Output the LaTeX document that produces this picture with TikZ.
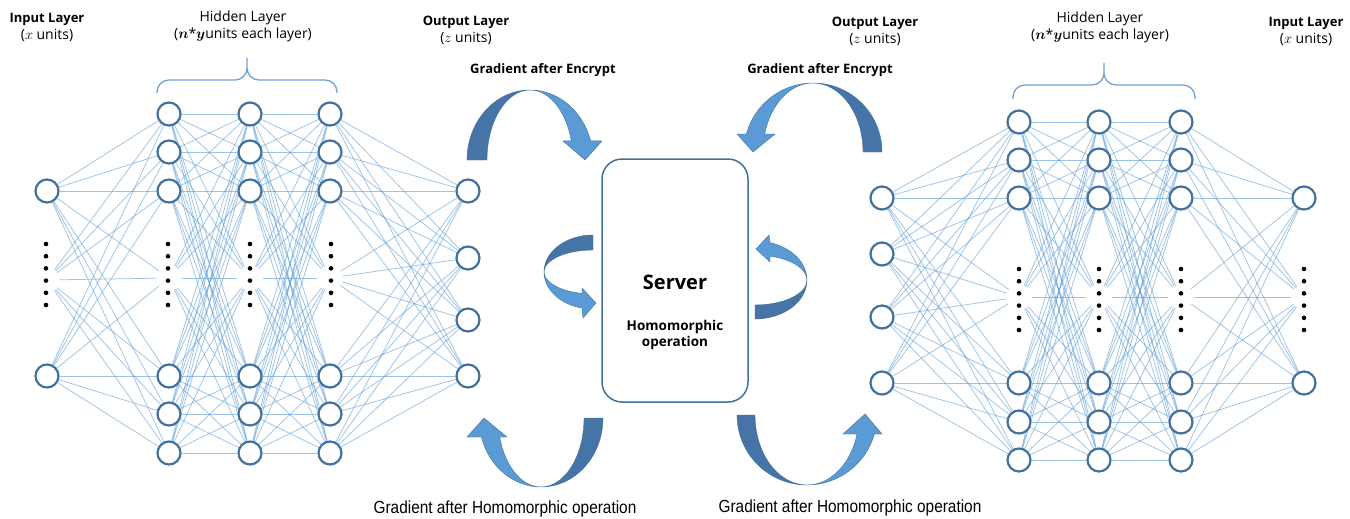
\documentclass[tikz,border=0pt]{standalone}
\usepackage{fontspec}
\setmainfont{Open Sans}
\newfontfamily\narrowfont[FakeStretch=0.88]{Liberation Sans}
\usetikzlibrary{backgrounds}

\definecolor{nodeblue}{HTML}{41719C}
\definecolor{linkblue}{HTML}{5B9BD5}
\definecolor{arrowlight}{HTML}{5B9BD5}
\definecolor{arrowdark}{HTML}{4674A6}
\definecolor{bracecol}{HTML}{6FA3D8}

\tikzset{
  neuron/.style={circle, draw=nodeblue, line width=2.2pt, fill=white, minimum size=23pt, inner sep=0pt},
  ghost/.style={circle, minimum size=25pt, inner sep=0pt},
  link/.style={draw=linkblue, line width=0.75pt, draw opacity=0.6},
  toplabel/.style={align=center, inner sep=0pt, font=\fontsize{14}{17}\selectfont},
  gradlabel/.style={inner sep=0pt, font=\fontsize{13}{15}\selectfont\bfseries},
  homlabel/.style={inner sep=0pt, font=\fontsize{17.5}{19}\selectfont\narrowfont},
  serverbox/.style={draw=nodeblue, line width=1.5pt, rounded corners=20pt, minimum width=146pt, minimum height=243pt},
  brace/.style={draw=bracecol, line width=1.3pt, rounded corners=12pt},
  darkpart/.style={fill=arrowdark, draw=nodeblue, line width=0.4pt},
  lightpart/.style={fill=arrowlight, draw=nodeblue, line width=0.4pt}
}
\newcommand{\layername}[1]{{\fontsize{13}{17}\selectfont\bfseries #1}}

\begin{document}
\begin{tikzpicture}[x=1pt, y=-1pt]
  \useasboundingbox (0,0) rectangle (1350,519);

  % left network
  \foreach \i/\y/\s in {1/191/neuron,2/280/ghost,3/376/neuron}
    \node[\s] (l0-\i) at (47,\y) {};
  \foreach \l/\x in {1/169,2/250,3/330}
    \foreach \i/\y/\s in {1/114/neuron,2/152/neuron,3/191/neuron,4/278/ghost,5/376/neuron,6/414/neuron,7/453/neuron}
      \node[\s] (l\l-\i) at (\x,\y) {};
  \foreach \i/\y in {1/191,2/258,3/320,4/376}
    \node[neuron] (l4-\i) at (468,\y) {};

  % right network
  \foreach \i/\y in {1/198,2/254,3/317,4/383}
    \node[neuron] (r4-\i) at (882,\y) {};
  \foreach \l/\x in {3/1019,2/1099,1/1181}
    \foreach \i/\y/\s in {1/122/neuron,2/160/neuron,3/198/neuron,4/297/ghost,5/383/neuron,6/422/neuron,7/460/neuron}
      \node[\s] (r\l-\i) at (\x,\y) {};
  \foreach \i/\y/\s in {1/198/neuron,2/297/ghost,3/383/neuron}
    \node[\s] (r0-\i) at (1304,\y) {};

  \begin{scope}[on background layer]
    \foreach \n in {l,r} {
      \foreach \i in {1,...,3}
        \foreach \j in {1,...,7}
          \draw[link] (\n0-\i) -- (\n1-\j);
      \foreach \a/\b in {1/2,2/3}
        \foreach \i in {1,...,7}
          \foreach \j in {1,...,7}
            \draw[link] (\n\a-\i) -- (\n\b-\j);
      \foreach \i in {1,...,7}
        \foreach \j in {1,...,4}
          \draw[link] (\n3-\i) -- (\n4-\j);
    }
  \end{scope}

  % dots
  \foreach \x in {46,168,250,331}
    \foreach \k in {0,...,5}
      \fill (\x,{244+12.2*\k}) circle (2.3);
  \foreach \x in {1019,1099,1181,1304}
    \foreach \k in {0,...,5}
      \fill (\x,{269+12.2*\k}) circle (2.3);

  % braces
  \draw[brace] (157,93) |- (247,80) -- (247,58) (337,93) |- (247,80) -- (247,58);
  \draw[brace] (1013,99) |- (1104,85) -- (1104,63) (1195,99) |- (1104,85) -- (1104,63);

  % labels
  \node[toplabel] (inL) at (47,27) {\layername{Input Layer}\\($x$ units)};
  \node[toplabel] (hidL) at (243,26) {Hidden Layer\\({\boldmath$n$}*{\boldmath$y$}units each layer)};
  \node[toplabel] (outL) at (466,30) {\layername{Output Layer}\\($z$ units)};
  \node[toplabel] (outR) at (875,31) {\layername{Output Layer}\\($z$ units)};
  \node[toplabel] (hidR) at (1100,27) {Hidden Layer\\({\boldmath$n$}*{\boldmath$y$}units each layer)};
  \node[toplabel] (inR) at (1306,31) {\layername{Input Layer}\\($x$ units)};

  % server
  \node[serverbox] (server) at (675,280.5) {};
  \node[font=\fontsize{20}{22}\selectfont\bfseries] (srvname) at (675,282) {Server};
  \node[align=center, font=\fontsize{13.5}{16.5}\selectfont\bfseries] (srvop) at (675,335) {Homomorphic\\operation};

  \node[gradlabel] (encL) at (543,70) {Gradient after Encrypt};
  \node[gradlabel] (encR) at (820,70) {Gradient after Encrypt};
  \node[homlabel] (homL) at (505,509) {Gradient after Homomorphic operation};
  \node[homlabel] (homR) at (850,508) {Gradient after Homomorphic operation};

  % curved arrows, top left
  \filldraw[darkpart] (530,160) ++(180:63 and 70) arc[start angle=180, end angle=270, x radius=63, y radius=70]
    arc[start angle=270, end angle=180, x radius=43, y radius=70] -- cycle;
  \filldraw[lightpart] (530,160) ++(270:63 and 70) arc[start angle=270, end angle=344, x radius=63, y radius=70]
    -- (602,141) -- (585,160) -- (563,141) -- (571.3,140.7)
    arc[start angle=344, end angle=270, x radius=43, y radius=70] -- cycle;
  % bottom left
  \filldraw[darkpart] (541,418) ++(0:62 and 69) arc[start angle=0, end angle=90, x radius=62, y radius=69]
    arc[start angle=90, end angle=0, x radius=43, y radius=69] -- cycle;
  \filldraw[lightpart] (541,418) ++(90:62 and 69) arc[start angle=90, end angle=164, x radius=62, y radius=69]
    -- (467,437) -- (484,418) -- (507,437) -- (499.7,437)
    arc[start angle=164, end angle=90, x radius=43, y radius=69] -- cycle;
  % small left
  \filldraw[darkpart] (593,272) ++(270:49 and 37) arc[start angle=270, end angle=180, x radius=49, y radius=37]
    arc[start angle=180, end angle=270, x radius=49, y radius=22] -- cycle;
  \filldraw[lightpart] (593,272) ++(180:49 and 37) arc[start angle=180, end angle=103, x radius=49, y radius=37]
    -- (583,318) -- (596,303) -- (582,288) -- (582,293.4)
    arc[start angle=103, end angle=180, x radius=49, y radius=22] -- cycle;
  % small right
  \filldraw[darkpart] (755,280) ++(90:52 and 39) arc[start angle=90, end angle=0, x radius=52, y radius=39]
    arc[start angle=0, end angle=90, x radius=52, y radius=25] -- cycle;
  \filldraw[lightpart] (755,280) ++(0:52 and 39) arc[start angle=360, end angle=286.8, x radius=52, y radius=39]
    -- (769,235) -- (756,249) -- (770,262) -- (770,256.1)
    arc[start angle=286.8, end angle=360, x radius=52, y radius=25] -- cycle;
  % top right
  \filldraw[darkpart] (813,152) ++(0:69 and 69) arc[start angle=360, end angle=270, x radius=69, y radius=69]
    arc[start angle=270, end angle=360, x radius=50, y radius=69] -- cycle;
  \filldraw[lightpart] (813,152) ++(270:69 and 69) arc[start angle=270, end angle=195.1, x radius=69, y radius=69]
    -- (737,134) -- (753,152) -- (775,134) -- (764.7,134)
    arc[start angle=195.1, end angle=270, x radius=50, y radius=69] -- cycle;
  % bottom right
  \filldraw[darkpart] (807,415) ++(180:70 and 70) arc[start angle=180, end angle=90, x radius=70, y radius=70]
    arc[start angle=90, end angle=180, x radius=52, y radius=70] -- cycle;
  \filldraw[lightpart] (807,415) ++(90:70 and 70) arc[start angle=90, end angle=15.75, x radius=70, y radius=70]
    -- (882,434) -- (865,414) -- (843,434) -- (857.1,434)
    arc[start angle=15.75, end angle=90, x radius=52, y radius=70] -- cycle;
\end{tikzpicture}
\end{document}
